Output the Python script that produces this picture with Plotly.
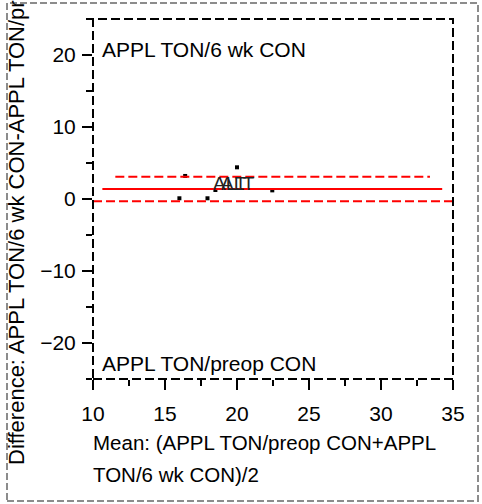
import plotly.graph_objects as go

# Paired measurements: mean of the two methods and their difference
mean_vals = [16.0, 16.4, 17.95, 18.5, 20.0, 22.45]
diff_vals = [0.1, 3.2, 0.1, 1.25, 4.4, 1.2]

# Bias and limits of agreement
bias = 1.4
upper_loa = 3.1
lower_loa = -0.3
bias_span = [10.65, 34.25]
upper_span = [11.55, 33.4]
lower_span = [10.0, 35.0]

x_range = [10, 35]
y_range = [-25, 25]

point_labels = ["ALT", "ALT"]
label_x = [19.5, 20.05]
label_y = [2.2, 2.2]

W, H = 482, 504
ML, MR, MT, MB = 93, 29, 19, 125
PW, PH = W - ML - MR, H - MT - MB

def px_x(p):
    return (p - ML) / PW

def px_y(p):
    return (H - MB - p) / PH

FONT = "Liberation Sans, Arial, sans-serif"
FS = 21

fig = go.Figure()

fig.add_trace(go.Scatter(
    x=mean_vals, y=diff_vals, mode="markers",
    marker=dict(symbol="square", size=4, color="black", line=dict(width=0)),
    hoverinfo="x+y", showlegend=False,
))

fig.add_trace(go.Scatter(
    x=bias_span, y=[bias, bias], mode="lines",
    line=dict(color="#ff0000", width=2), showlegend=False,
))
fig.add_trace(go.Scatter(
    x=upper_span, y=[upper_loa, upper_loa], mode="lines",
    line=dict(color="#ff0000", width=2, dash="9px,4px"), showlegend=False,
))
fig.add_trace(go.Scatter(
    x=lower_span, y=[lower_loa, lower_loa], mode="lines",
    line=dict(color="#ff0000", width=2, dash="9px,4px"), showlegend=False,
    cliponaxis=False,
))

for t, lx, ly in zip(point_labels, label_x, label_y):
    fig.add_annotation(x=lx, y=ly, text=t, showarrow=False,
                       font=dict(family=FONT, size=19, color="#222"),
                       xanchor="center", yanchor="middle")

# Dashed frame round the plotting area
fig.add_shape(type="rect", xref="paper", yref="paper", x0=0, x1=1, y0=0, y1=1,
              line=dict(color="black", width=2, dash="9px,4px"), layer="above")

# Dashed grey border round the whole figure
fig.add_shape(type="rect", xref="paper", yref="paper",
              x0=px_x(7), x1=px_x(478), y0=px_y(501), y1=px_y(3),
              line=dict(color="#8c8c8c", width=2, dash="7px,3px"), layer="above")

# Region labels inside the plot
fig.add_annotation(xref="paper", yref="paper", x=px_x(100), y=px_y(49),
                   text="APPL TON/6 wk CON", showarrow=False,
                   xanchor="left", yanchor="middle",
                   font=dict(family=FONT, size=FS, color="black"))
fig.add_annotation(xref="paper", yref="paper", x=px_x(100), y=px_y(363),
                   text="APPL TON/preop CON", showarrow=False,
                   xanchor="left", yanchor="middle",
                   font=dict(family=FONT, size=FS, color="black"))

# Axis titles
fig.add_annotation(xref="paper", yref="paper", x=px_x(91), y=px_y(442),
                   text="Mean: (APPL TON/preop CON+APPL", showarrow=False,
                   xanchor="left", yanchor="middle",
                   font=dict(family=FONT, size=20.5, color="black"))
fig.add_annotation(xref="paper", yref="paper", x=px_x(91), y=px_y(474),
                   text="TON/6 wk CON)/2", showarrow=False,
                   xanchor="left", yanchor="middle",
                   font=dict(family=FONT, size=20.5, color="black"))
fig.add_annotation(xref="paper", yref="paper", x=px_x(16), y=px_y(467),
                   text="Difference: APPL TON/6 wk CON-APPL TON/preop CON",
                   showarrow=False, textangle=-90,
                   xanchor="center", yanchor="bottom",
                   font=dict(family=FONT, size=22, color="black"))

axis_common = dict(
    showgrid=False, zeroline=False, showline=False,
    ticks="outside", ticklen=10, tickwidth=2, tickcolor="black",
    tickfont=dict(family=FONT, size=FS, color="black"),
)

fig.update_xaxes(range=x_range, tick0=10, dtick=5, ticklabelstandoff=6,
                 minor=dict(dtick=2.5, ticks="outside", ticklen=6,
                            tickwidth=2, tickcolor="black"),
                 **axis_common)
fig.update_yaxes(range=y_range, tick0=0, dtick=10, ticklabelstandoff=2,
                 minor=dict(dtick=5, ticks="outside", ticklen=6,
                            tickwidth=2, tickcolor="black"),
                 **axis_common)

fig.update_layout(
    width=W, height=H,
    margin=dict(l=ML, r=MR, t=MT, b=MB),
    paper_bgcolor="white", plot_bgcolor="white",
    showlegend=False,
)

fig.write_html("out.html")
